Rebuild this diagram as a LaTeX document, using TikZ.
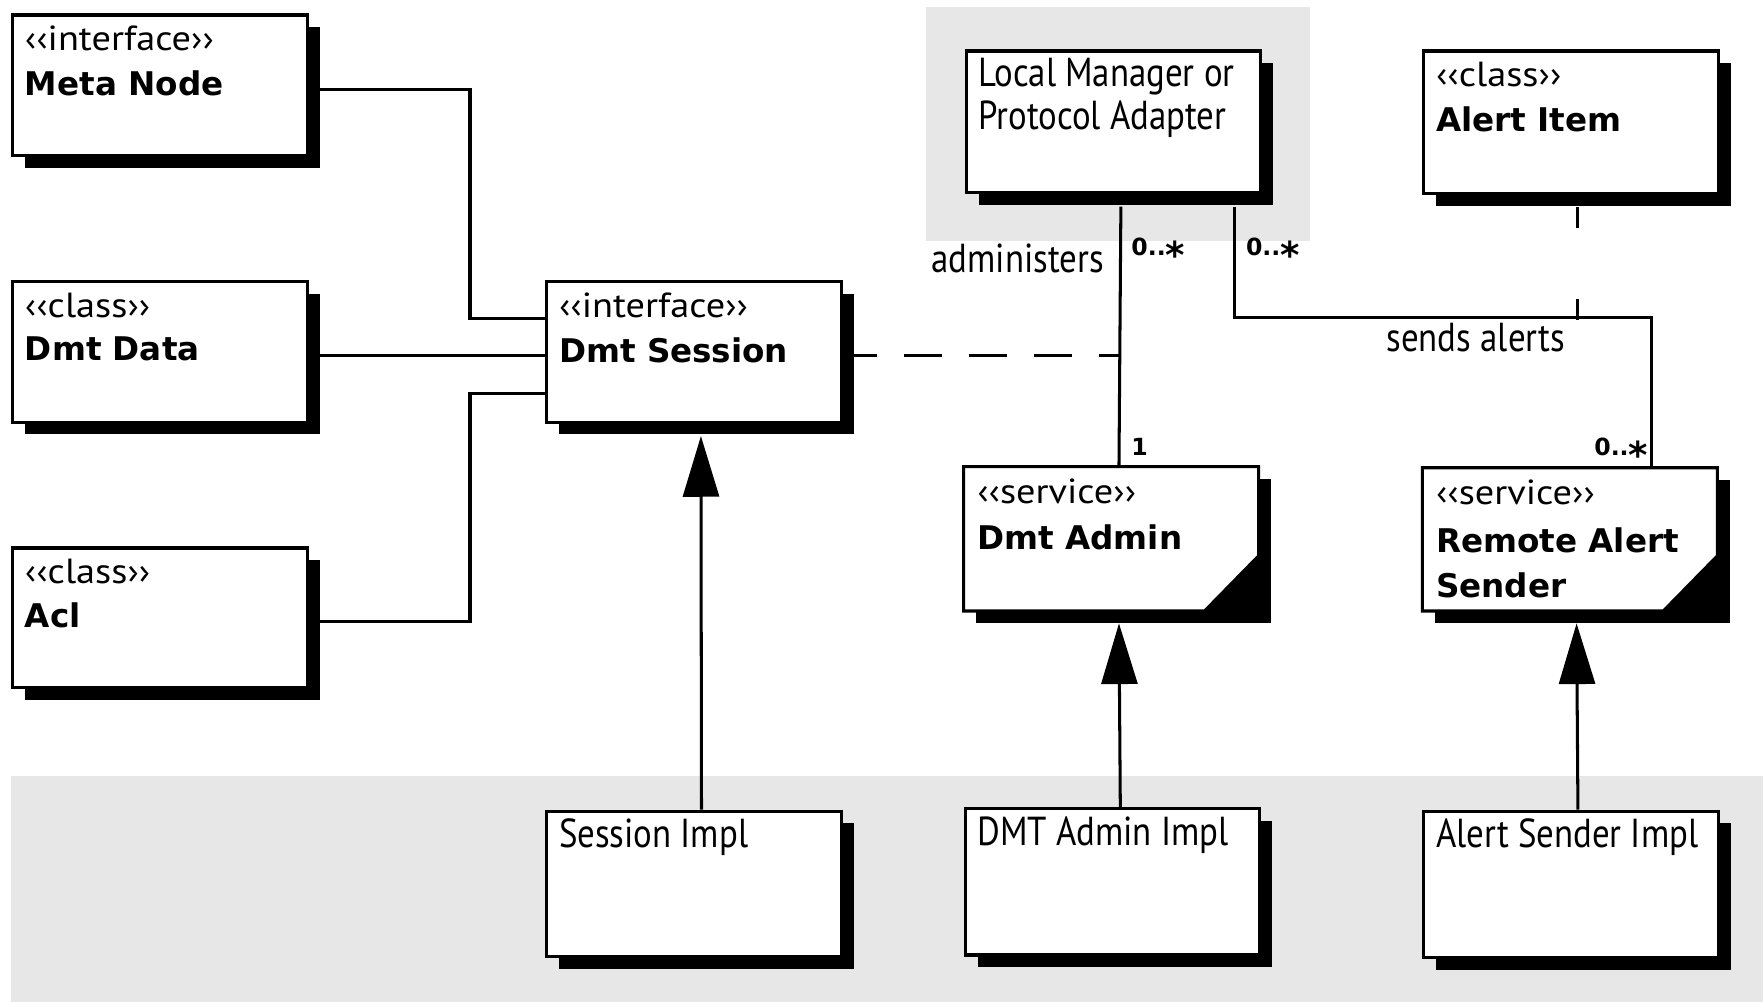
\documentclass[tikz,border=0pt]{standalone}
\usepackage{fontspec}
\usetikzlibrary{arrows.meta,shadows,calc}
\newfontfamily\lightfont[FakeStretch=0.86]{PT Sans}
\newfontfamily\stereofont[FakeStretch=1.1]{PT Sans}
\newfontfamily\namefont{DejaVu Sans}
\definecolor{panel}{RGB}{230,231,230}
\newcommand{\manystar}{\raisebox{-12pt}{\fontsize{33}{33}\selectfont *}}
\begin{document}
\begin{tikzpicture}[x=1pt,y=-1pt,
  box/.style={draw, line width=2.8pt, fill=white, minimum width=262pt,
    inner sep=0pt, anchor=north west,
    drop shadow={fill=black, opacity=1, shadow xshift=11pt, shadow yshift=-11pt}},
  svcbox/.style={draw=none, fill=none, minimum width=262pt, inner sep=0pt, anchor=north west},
  outline/.style={line width=2.8pt, fill=white, line join=miter},
  stereo/.style={font={\stereofont\fontsize{31}{31}\selectfont}, anchor=base west, inner sep=0pt},
  cname/.style={font={\namefont\bfseries\fontsize{29}{29}\selectfont}, anchor=base west, inner sep=0pt},
  plain/.style={font={\lightfont\fontsize{36}{36}\selectfont}, anchor=base west, inner sep=0pt},
  mult/.style={font={\namefont\bfseries\fontsize{21}{21}\selectfont}, anchor=base west, inner sep=0pt},
  conn/.style={line width=2.7pt},
  gen/.style={line width=2.7pt, -{Triangle[length=54pt, width=32pt]}}
]
\useasboundingbox (0,0) rectangle (1568,891);

% shaded panels
\fill[panel] (824,6) rectangle (1165,214);
\fill[panel] (10,690) rectangle (1568,891);

% class boxes
\node[box, minimum height=125pt] (meta) at (10,12) {};
\node[box, minimum height=125pt] (data) at (10,249) {};
\node[box, minimum height=124pt] (acl) at (10,486) {};
\node[box, minimum height=125pt] (session) at (485,249) {};
\node[box, minimum height=126pt] (local) at (858,44) {};
\node[box, minimum height=127pt] (alertitem) at (1265,44) {};
\node[box, minimum height=129pt] (sessimpl) at (485,720) {};
\node[box, minimum height=130pt] (adminimpl) at (857,718) {};
\node[box, minimum height=130pt] (senderimpl) at (1265,720) {};

% service boxes with a cut corner
\node[svcbox, minimum height=128pt] (admin) at (857,415) {};
\node[svcbox, minimum height=127pt] (remote) at (1265,416) {};
\foreach \s in {admin,remote}{
  \fill[black] ([xshift=11pt,yshift=-11pt]\s.north west) rectangle ([xshift=11pt,yshift=-11pt]\s.south east);
  \draw[outline] (\s.north west) -- (\s.north east) -- ([yshift=49pt]\s.south east)
    -- ([xshift=-48pt]\s.south east) -- (\s.south west) -- cycle;
}

% texts
\node[stereo] (metaS) at ([xshift=12pt,yshift=-33pt]meta.north west) {‹‹interface››};
\node[cname] (metaN) at ([xshift=12pt,yshift=-73pt]meta.north west) {Meta Node};
\node[stereo] (dataS) at ([xshift=12pt,yshift=-33pt]data.north west) {‹‹class››};
\node[cname] (dataN) at ([xshift=12pt,yshift=-72pt]data.north west) {Dmt Data};
\node[stereo] (aclS) at ([xshift=12pt,yshift=-33pt]acl.north west) {‹‹class››};
\node[cname] (aclN) at ([xshift=12pt,yshift=-72pt]acl.north west) {Acl};
\node[stereo] (sessionS) at ([xshift=12pt,yshift=-33pt]session.north west) {‹‹interface››};
\node[cname] (sessionN) at ([xshift=12pt,yshift=-73pt]session.north west) {Dmt Session};
\node[plain] (localA) at ([xshift=12pt,yshift=-33pt]local.north west) {Local Manager or};
\node[plain] (localB) at ([xshift=12pt,yshift=-71pt]local.north west) {Protocol Adapter};
\node[stereo] (alertS) at ([xshift=12pt,yshift=-33pt]alertitem.north west) {‹‹class››};
\node[cname] (alertN) at ([xshift=12pt,yshift=-73pt]alertitem.north west) {Alert Item};
\node[stereo] (adminS) at ([xshift=12pt,yshift=-33pt]admin.north west) {‹‹service››};
\node[cname] (adminN) at ([xshift=12pt,yshift=-74pt]admin.north west) {Dmt Admin};
\node[stereo] (remoteS) at ([xshift=12pt,yshift=-33pt]remote.north west) {‹‹service››};
\node[cname] (remoteA) at ([xshift=12pt,yshift=-75pt]remote.north west) {Remote Alert};
\node[cname] (remoteB) at ([xshift=12pt,yshift=-115pt]remote.north west) {Sender};
\node[plain] (sessimplT) at ([xshift=12pt,yshift=-34pt]sessimpl.north west) {Session Impl};
\node[plain] (adminimplT) at ([xshift=12pt,yshift=-34pt]adminimpl.north west) {DMT Admin Impl};
\node[plain] (senderimplT) at ([xshift=12pt,yshift=-34pt]senderimpl.north west) {Alert Sender Impl};

% associations to the session interface
\draw[conn] ([yshift=-4pt]meta.east) -| ([xshift=-67pt,yshift=29.5pt]session.west) -- ([yshift=29.5pt]session.west);
\draw[conn] ([yshift=-3.5pt]data.east) -- ([yshift=-3.5pt]session.west);
\draw[conn] ([yshift=-3pt]acl.east) -| ([xshift=-67pt,yshift=-37.5pt]session.west) -- ([yshift=-37.5pt]session.west);

% administers association
\coordinate (aTop) at ([xshift=6.5pt,yshift=-11pt]local.south);
\draw[conn] (aTop) -- ([xshift=7pt]admin.north);
\coordinate (dashEnd) at (aTop |- session.east);
\draw[conn, dash pattern=on 34pt off 24pt, dash phase=4pt] ([yshift=-3.5pt]session.east) -- ([yshift=-3.5pt]dashEnd);

% sends alerts association with its association class
\draw[conn] ([xshift=107.5pt,yshift=-11pt]local.south) |- ([xshift=73pt,yshift=134pt]remote.north) -- ([xshift=73pt]remote.north);
\coordinate (assocPt) at ([xshift=6pt,yshift=-111pt]alertitem.south);
\draw[conn, dash pattern=on 19pt off 63pt] (assocPt) -- ([xshift=6pt]alertitem.south);

% association labels
\node[plain, anchor=base east] (administersL) at (982,242) {administers};
\node[plain] (sendsL) at (1233,313) {sends alerts};
\node[mult] (m1) at (1006,227) {0..\manystar};
\node[mult] (m2) at (1108,227) {0..\manystar};
\node[mult] (m3) at (1006,405) {1};
\node[mult, anchor=base east] (m4) at (1466,405) {0..\manystar};

% realizations
\draw[gen] ([xshift=6.5pt]sessimpl.north) -- ([xshift=6pt,yshift=-11pt]session.south);
\draw[gen] ([xshift=7pt]adminimpl.north) -- ([xshift=7pt,yshift=-11pt]admin.south);
\draw[gen] ([xshift=6pt]senderimpl.north) -- ([xshift=6pt,yshift=-11pt]remote.south);
\end{tikzpicture}
\end{document}
